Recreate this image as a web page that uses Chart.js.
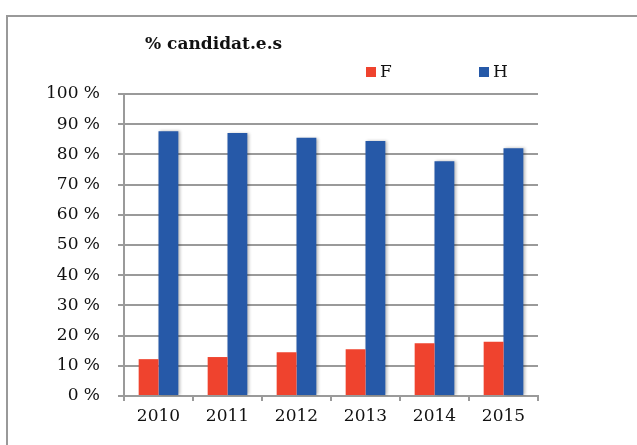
<!DOCTYPE html>
<html lang="fr">
<head>
<meta charset="utf-8">
<title>% candidat.e.s</title>
<script src="https://cdn.jsdelivr.net/npm/chart.js@4/dist/chart.umd.min.js"></script>
<style>
  html, body { margin: 0; padding: 0; background: #fff; overflow: hidden; }
  #frame {
    position: absolute; left: 6px; top: 15px; width: 700px; height: 500px;
    border-left: 2px solid #999; border-top: 2px solid #999;
  }
  #wrap { position: absolute; left: 0; top: 0; width: 637px; height: 445px; }
</style>
</head>
<body>
<div id="frame"></div>
<div id="wrap"><canvas id="chart" width="637" height="445"></canvas></div>
<script>
// Data
const chartTitle = '% candidat.e.s';
const years      = ['2010', '2011', '2012', '2013', '2014', '2015'];
const femmes     = [12.2, 12.9, 14.5, 15.5, 17.5, 18.0];
const hommes     = [87.7, 87.1, 85.5, 84.4, 77.7, 82.0];
const seriesNames = ['F', 'H'];
const yTicks     = [0, 10, 20, 30, 40, 50, 60, 70, 80, 90, 100];

const RED  = '#EF432E';
const BLUE = '#2659A8';
const GRID = '#9a9a9a';
const FONT = '"DejaVu Serif", serif';

// Title + legend drawn at fixed spots, like the Excel export
const headerPlugin = {
  id: 'header',
  afterDraw(chart, args, opts) {
    const { ctx } = chart;
    ctx.save();
    ctx.fillStyle = '#111';
    ctx.textBaseline = 'middle';
    ctx.textAlign = 'left';
    ctx.font = 'bold 17px ' + FONT;
    ctx.fillText(opts.title, opts.titleX, opts.titleY);

    ctx.font = '17px ' + FONT;
    chart.data.datasets.forEach((ds, i) => {
      const x = opts.legendX[i];
      ctx.fillStyle = ds.backgroundColor;
      ctx.fillRect(x, opts.legendY - 5, 10, 10);
      ctx.fillStyle = '#111';
      ctx.fillText(ds.label, x + 14, opts.legendY + 1);
    });
    ctx.restore();
  },
};

// soft shadow behind the blue bars (red ones sit in front of nothing)
const shadowPlugin = {
  id: 'barShadow',
  beforeDatasetDraw(chart, args) {
    const ctx = chart.ctx;
    ctx.save();
    if (args.index === 1) {
      ctx.shadowColor = 'rgba(0,0,0,0.28)';
      ctx.shadowBlur = 3;
      ctx.shadowOffsetX = 1.5;
      ctx.shadowOffsetY = 0;
    }
  },
  afterDatasetDraw(chart) {
    chart.ctx.restore();
  },
};

new Chart(document.getElementById('chart'), {
  type: 'bar',
  data: {
    labels: years,
    datasets: [
      { label: seriesNames[0], data: femmes, backgroundColor: RED },
      { label: seriesNames[1], data: hommes, backgroundColor: BLUE },
    ],
  },
  options: {
    responsive: false,
    animation: false,
    layout: { padding: { left: 0, right: 99, top: 94, bottom: 0 } },
    datasets: { bar: { categoryPercentage: 0.575, barPercentage: 1 } },
    plugins: {
      legend: { display: false },
      tooltip: { enabled: false },
      header: {
        title: chartTitle,
        titleX: 145, titleY: 45,
        legendX: [366, 479], legendY: 72,
      },
    },
    scales: {
      x: {
        grid: { display: true, drawOnChartArea: false, offset: true, color: GRID, lineWidth: 2, tickLength: 5 },
        border: { display: true, color: GRID, width: 2 },
        ticks: { color: '#111', font: { family: FONT, size: 17 }, padding: 5, maxRotation: 0 },
        afterFit: s => { s.height = 49; },
      },
      y: {
        min: 0, max: 100,
        afterBuildTicks: s => { s.ticks = yTicks.map(v => ({ value: v })); },
        grid: { color: GRID, lineWidth: 2, tickLength: 6 },
        border: { display: true, color: GRID, width: 2 },
        ticks: {
          color: '#111', font: { family: FONT, size: 17 }, padding: 18,
          callback: v => v + ' %',
        },
        afterFit: s => { s.width = 124; },
      },
    },
  },
  plugins: [shadowPlugin, headerPlugin],
});
</script>
</body>
</html>
